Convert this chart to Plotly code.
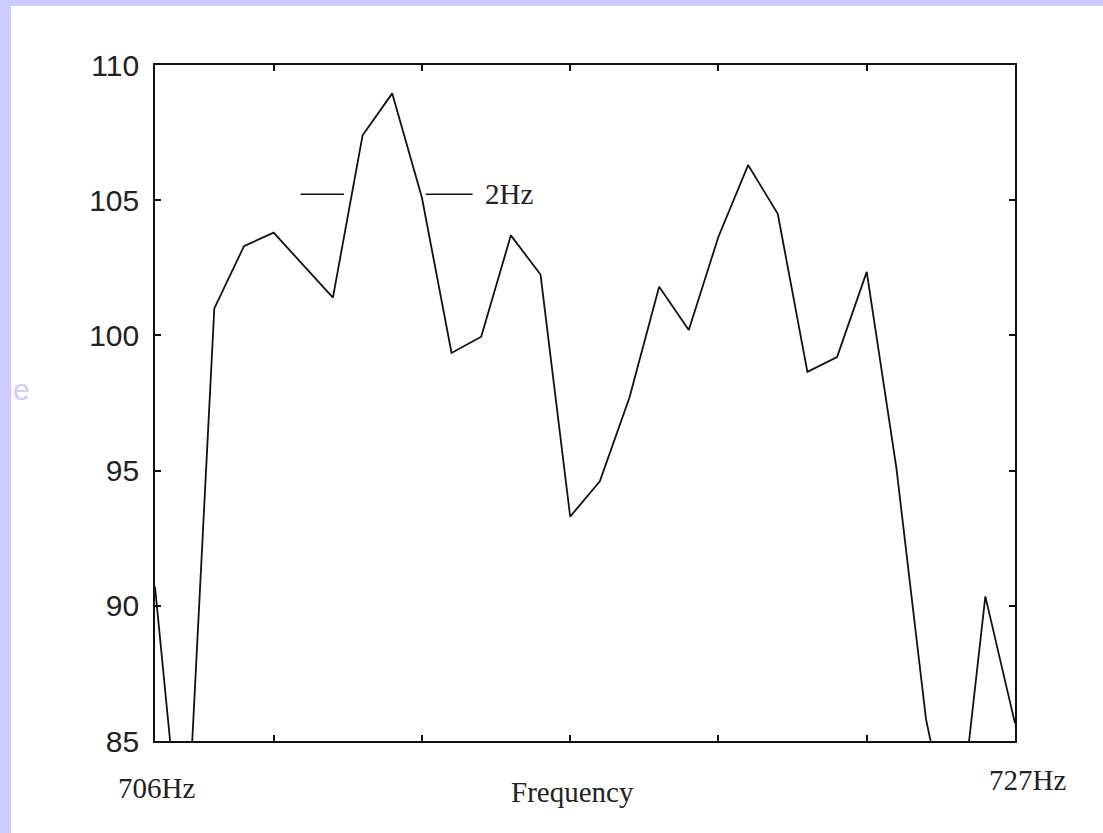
import plotly.graph_objects as go

# ---- data ----
x_index = list(range(30))
level = [90.7, 79.5, 101.0, 103.3, 103.8, 102.6, 101.4, 107.4, 108.95, 105.1,
         99.35, 99.95, 103.7, 102.25, 93.3, 94.6, 97.7, 101.8, 100.2, 103.65,
         106.3, 104.5, 98.65, 99.2, 102.35, 95.1, 85.8, 80.6, 90.35, 85.65]
y_ticks = [85, 90, 95, 100, 105, 110]
x_ticks = [4, 9, 14, 19, 24]
x_end_labels = ["706Hz", "727Hz"]
x_title = "Frequency"
span_label = "2Hz"
span_y = 105.22
span_segments = [(4.91, 6.37), (9.13, 10.71)]
span_text_x = 11.06

W, H = 1103, 833
L, R, T, B = 155, 88, 65, 92
pw, ph = W - L - R, H - T - B
LAV = "#CCCCFF"

def px_x(p):
    return (p - L) / pw

def px_y(p):
    return (H - B - p) / ph

fig = go.Figure()
fig.add_trace(go.Scatter(x=x_index, y=level, mode="lines",
                         line=dict(color="#111111", width=1.8),
                         showlegend=False, hoverinfo="skip"))

shapes = [
    # lavender slide edges
    dict(type="rect", xref="paper", yref="paper", x0=px_x(-5), x1=px_x(11),
         y0=px_y(H + 5), y1=px_y(-5), fillcolor=LAV, line=dict(width=0), layer="below"),
    dict(type="rect", xref="paper", yref="paper", x0=px_x(-5), x1=px_x(W + 5),
         y0=px_y(6), y1=px_y(-5), fillcolor=LAV, line=dict(width=0), layer="below"),
]
for a, b in span_segments:
    shapes.append(dict(type="line", xref="x", yref="y", x0=a, x1=b, y0=span_y, y1=span_y,
                       line=dict(color="#111111", width=1.5)))

serif = dict(family="Liberation Serif, Times New Roman, serif", size=29, color="#222222")
annotations = [
    dict(text=x_end_labels[0], xref="paper", yref="paper", x=px_x(156.5), y=px_y(788),
         xanchor="center", yanchor="middle", showarrow=False, font=serif),
    dict(text=x_end_labels[1], xref="paper", yref="paper", x=px_x(1027.5), y=px_y(780),
         xanchor="center", yanchor="middle", showarrow=False, font=serif),
    dict(text=x_title, xref="paper", yref="paper", x=px_x(572), y=px_y(792),
         xanchor="center", yanchor="middle", showarrow=False, font=serif),
    dict(text=span_label, xref="x", yref="y", x=span_text_x, y=span_y,
         xanchor="left", yanchor="middle", showarrow=False, font=serif),
    dict(text="e", xref="paper", yref="paper", x=px_x(11), y=px_y(390),
         xanchor="left", yanchor="middle", showarrow=False,
         font=dict(family="Liberation Sans, Arial, sans-serif", size=30, color=LAV)),
]

fig.update_layout(
    width=W, height=H,
    margin=dict(l=L, r=R, t=T, b=B, pad=0),
    paper_bgcolor="white", plot_bgcolor="white",
    shapes=shapes, annotations=annotations,
    xaxis=dict(range=[0, 29], tickvals=x_ticks, showticklabels=False,
               ticks="inside", ticklen=6, tickwidth=1.5, tickcolor="#111111",
               showline=True, linecolor="#111111", linewidth=1.6, mirror="ticks",
               showgrid=False, zeroline=False),
    yaxis=dict(range=[85, 110], tickvals=y_ticks,
               ticks="inside", ticklen=6, tickwidth=1.5, tickcolor="#111111",
               showline=True, linecolor="#111111", linewidth=1.6, mirror="ticks",
               showgrid=False, zeroline=False, ticklabelstandoff=8,
               tickfont=dict(family="Liberation Sans, Arial, sans-serif", size=30, color="#222222")),
)

fig.write_html("out.html", config={"displayModeBar": False},
               post_script="document.body.style.margin='0';document.body.style.overflow='hidden';")
